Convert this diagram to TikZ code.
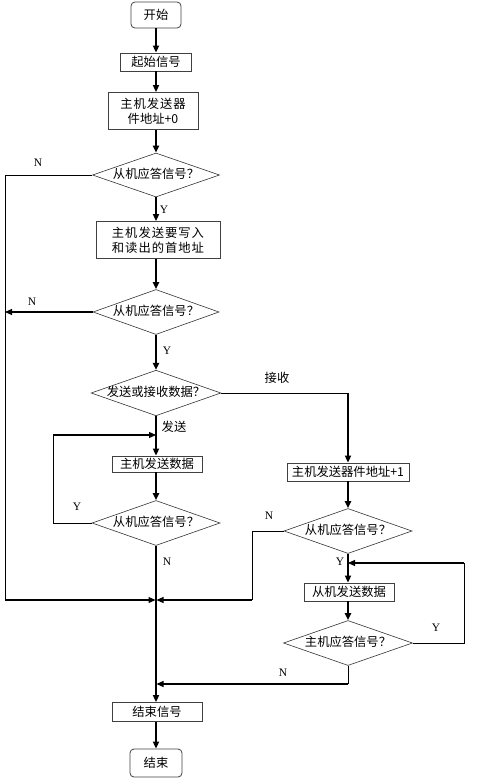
\documentclass[tikz,border=0pt]{standalone}
\usepackage{fontspec}
\setmainfont{Liberation Serif}
\newfontfamily\cjk{Noto Sans CJK SC}
\usetikzlibrary{arrows.meta,shapes.geometric}
\begin{document}
\begin{tikzpicture}[x=1pt,y=-1pt,
  every node/.style={font=\cjk\fontsize{12.3}{15}\selectfont},
  procbox/.style={draw=black!75,line width=0.8pt,rectangle,inner sep=0pt,align=center},
  termbox/.style={procbox,rounded corners=4pt},
  decide/.style={draw=black!80,line width=0.6pt,diamond,aspect=2.85,inner sep=0pt,text height=9pt,text depth=2pt},
  flow/.style={line width=1.8pt,-{Triangle[length=7pt,width=6pt]}},
  side/.style={line width=0.9pt},
  sidearrow/.style={line width=1.2pt,-{Triangle[length=7pt,width=6pt]}},
  lab/.style={font=\fontsize{11.5}{13}\selectfont}]
\useasboundingbox (0,0) rectangle (492,780);

\node[termbox,minimum width=50,minimum height=26] (start) at (156,15) {开始};
\node[procbox,minimum width=71,minimum height=18] (sig) at (156,62) {起始信号};
\node[procbox,minimum width=90,minimum height=37] (addr0) at (153,111) {主\hspace{1pt}机\hspace{1pt}发\hspace{1pt}送\hspace{1pt}器\\件地址+0};
\node[decide,minimum width=127,minimum height=44] (d1) at (156,175) {从机应答信号？};
\node[procbox,minimum width=124,minimum height=37] (box2) at (158,240) {主\hspace{1pt}机\hspace{1pt}发\hspace{1pt}送\hspace{1pt}要\hspace{1pt}写\hspace{1pt}入\\和\hspace{1pt}读\hspace{1pt}出\hspace{1pt}的\hspace{1pt}首\hspace{1pt}地\hspace{1pt}址};
\node[decide,minimum width=126,minimum height=45] (d2) at (156,312) {从机应答信号？};
\node[decide,minimum width=129,minimum height=45] (d3) at (156,393) {发送或接收数据？};
\node[procbox,minimum width=90,minimum height=16] (sendbox) at (157,464) {主机发送数据};
\node[decide,minimum width=128,minimum height=45] (d4) at (156,523) {从机应答信号？};
\node[procbox,minimum width=122,minimum height=18] (recvbox) at (348,472) {主机发送器件地址+1};
\node[decide,minimum width=128,minimum height=45] (d5) at (348,531) {从机应答信号？};
\node[procbox,minimum width=90,minimum height=18] (slavebox) at (349,592) {从机发送数据};
\node[decide,minimum width=129,minimum height=45] (d6) at (348,643) {主机应答信号？};
\node[procbox,minimum width=90,minimum height=19] (endsig) at (157,712) {结束信号};
\node[termbox,minimum width=52,minimum height=28] (end) at (156,763) {结束};

\coordinate (m1) at (156,600);
\coordinate (m2) at (156,684);
\coordinate (loopA) at (156,435);
\coordinate (loopB) at (348,563);

% main flow
\draw[flow] (start) -- (sig);
\draw[flow] (sig) -- (sig|-addr0.north);
\draw[flow] (addr0.south-|d1.north) -- (d1.north);
\draw[flow] (d1.south) -- (d1.south|-box2.north);
\draw[flow] (box2.south-|d2.north) -- (d2.north);
\draw[flow] (d2.south) -- (d3.north);
\draw[flow] (d3.south) -- (d3.south|-sendbox.north);
\draw[flow] (sendbox.south-|d4.north) -- (d4.north);
\draw[flow] (d4.south) -- (m1) -- (m2) -- (m2|-endsig.north);
\draw[flow] (endsig.south-|end.north) -- (end.north);

% left rail
\draw[side] (d1.west) -- (5,175) -- (5,600);
\draw[sidearrow] (5,600) -- ([xshift=-0.5pt]m1);
\draw[sidearrow] (d2.west) -- (5,312);

% send loop
\draw[side] (d4.west) -- (53,523) -- (53,435);
\draw[sidearrow] (53,435) -- (loopA);

% receive branch
\draw[side] (d3.east) -- (348,393);
\draw[flow] (348,393) -- (recvbox.north);
\draw[flow] (recvbox.south) -- (d5.north);
\draw[side] (d5.west) -- (252,531) -- (252,600);
\draw[sidearrow] (252,600) -- ([xshift=0.5pt]m1);
\draw[flow] (d5.south) -- (d5.south|-slavebox.north);
\draw[flow] (slavebox.south-|d6.north) -- (d6.north);
\draw[side] (d6.east) -- (464,643) -- (464,563);
\draw[sidearrow] (464,563) -- (loopB);
\draw[side] (d6.south) -- (348,684);
\draw[sidearrow] (348,684) -- ([xshift=0.5pt]m2);

% labels
\node[lab] (n1) at (38,163) {N};
\node[lab] (y1) at (164,210) {Y};
\node[lab] (n2) at (32,302) {N};
\node[lab] (y2) at (167,351) {Y};
\node (recvlab) at (277,378) {接收};
\node (sendlab) at (174,427) {发送};
\node[lab] (y4) at (77,507) {Y};
\node[lab] (n4) at (167,562) {N};
\node[lab] (n5) at (269,516) {N};
\node[lab] (y5) at (340,562) {Y};
\node[lab] (y6) at (436,628) {Y};
\node[lab] (n6) at (283,673) {N};
\end{tikzpicture}
\end{document}
